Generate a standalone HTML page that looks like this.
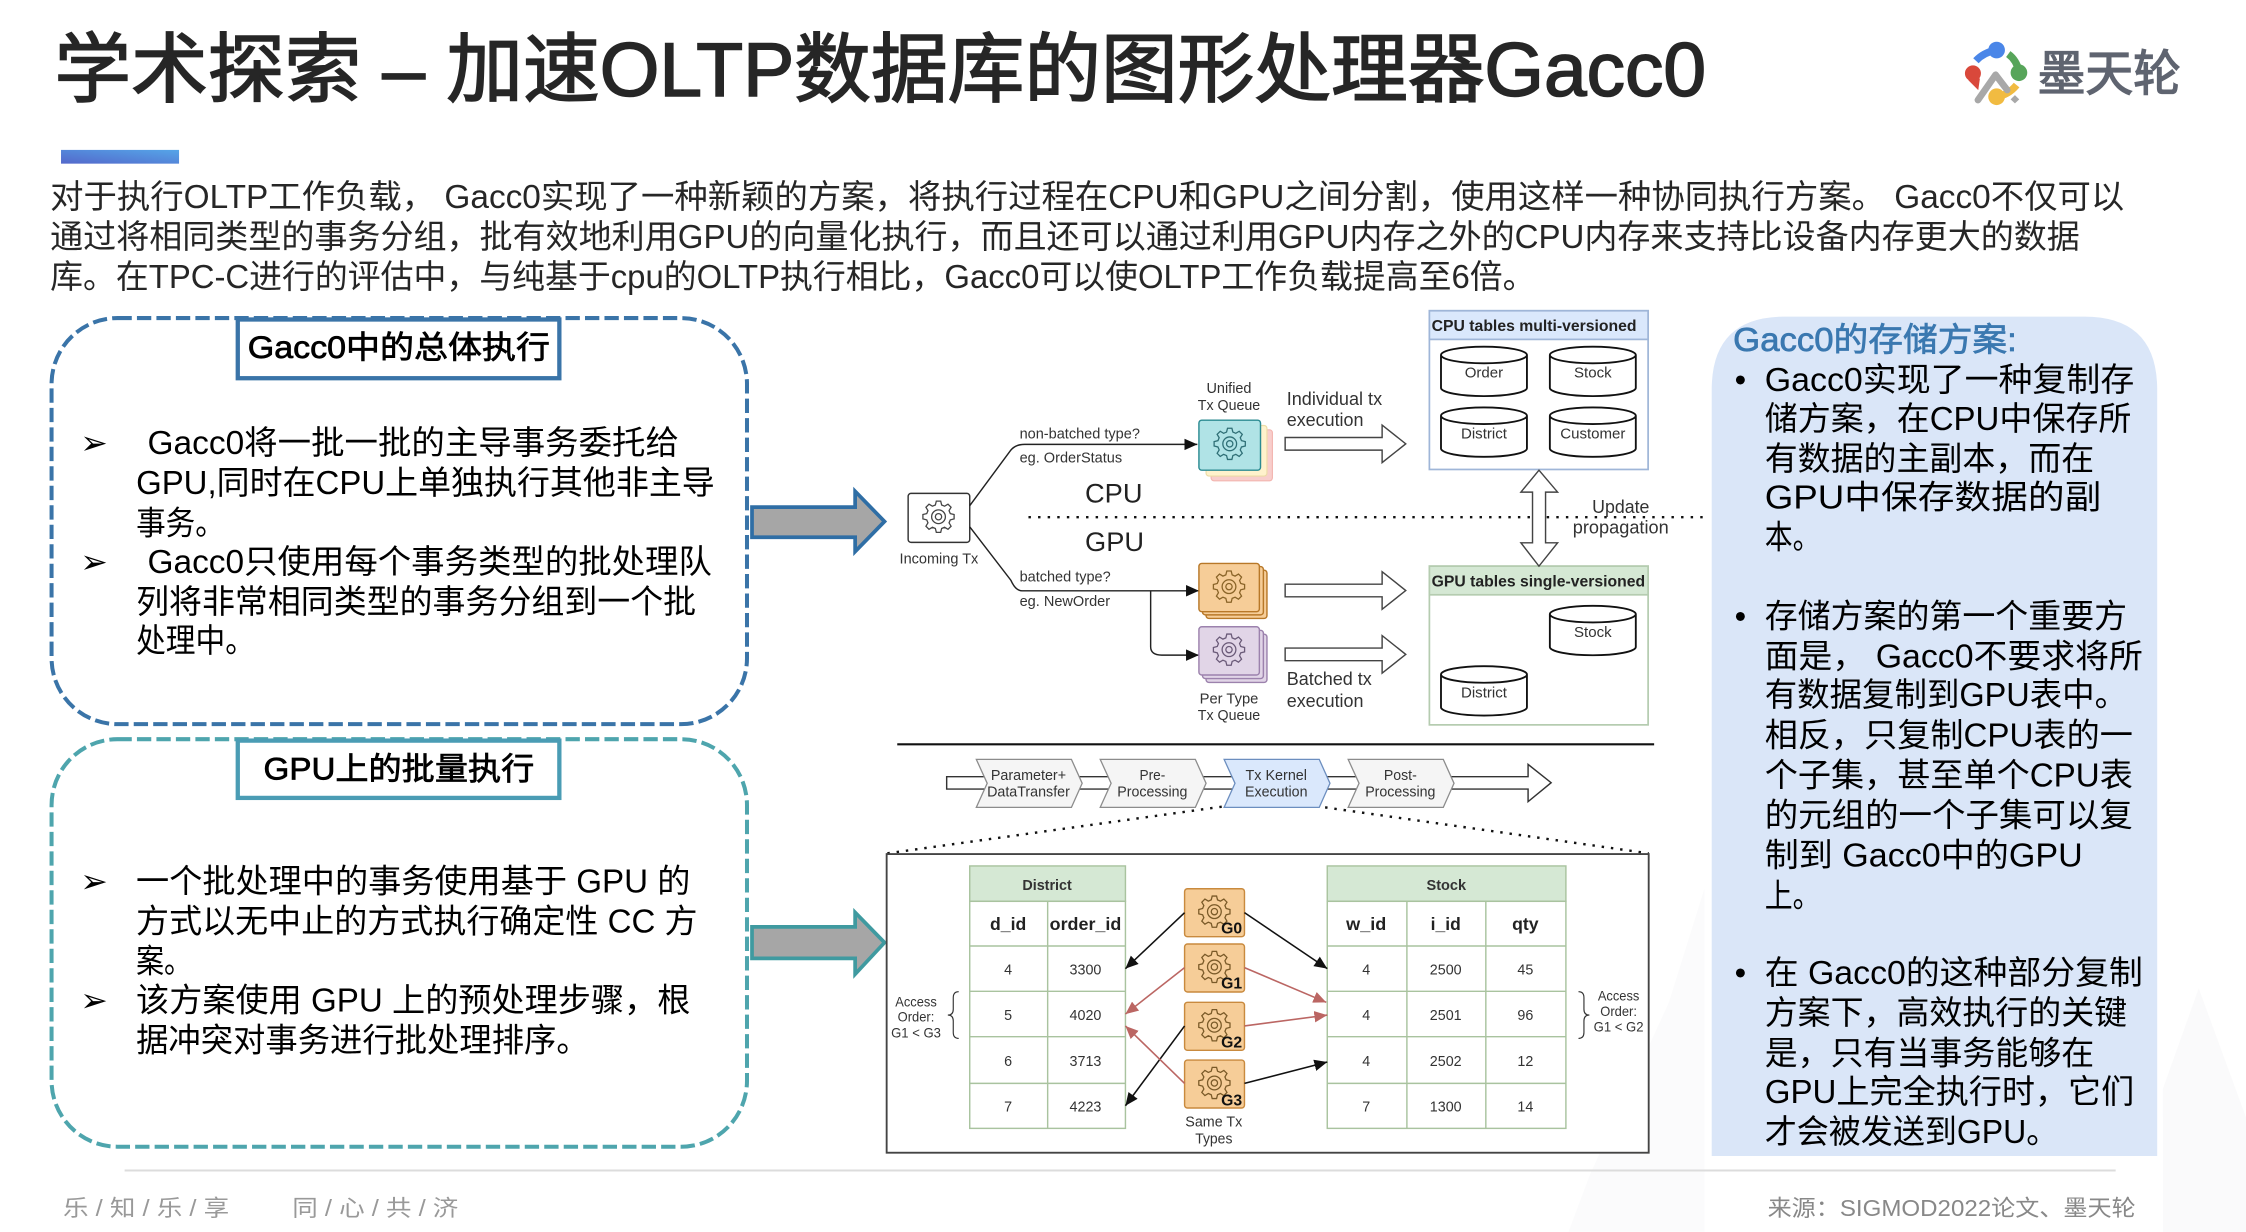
<!DOCTYPE html>
<html lang="zh">
<head>
<meta charset="utf-8">
<title>学术探索 - 加速OLTP数据库的图形处理器Gacc0</title>
<style>
html,body{margin:0;padding:0;background:#fff;width:2246px;height:1232px;overflow:hidden}
svg{display:block}
text{font-family:"Liberation Sans","Noto Sans CJK SC",sans-serif;white-space:pre}
.b{font-size:23px;fill:#000}
.d{font-size:10.5px;fill:#333}
.m{font-size:13px;fill:#333}
.c{text-anchor:middle}
.bd{font-weight:700}
</style>
</head>
<body>
<svg xmlns="http://www.w3.org/2000/svg" width="2246" height="1232" viewBox="0 0 1568 860">
<defs>
<linearGradient id="acc" x1="0" y1="1" x2="1" y2="0"><stop offset="0" stop-color="#5468cb"/><stop offset="1" stop-color="#55a5e8"/></linearGradient>
<marker id="ab" markerUnits="userSpaceOnUse" markerWidth="10" markerHeight="10" refX="9" refY="4" orient="auto"><path d="M0 0L9 4L0 8Z" fill="#111"/></marker>
<marker id="ar" markerUnits="userSpaceOnUse" markerWidth="10" markerHeight="10" refX="9" refY="4" orient="auto"><path d="M0 0L9 4L0 8Z" fill="#bb6663"/></marker>
<g id="gear" fill="none" stroke-width="0.9">
<path d="M8.21-2.2L10.89-1.53L10.89 1.53L8.21 2.2L7.36 4.25L8.78 6.62L6.62 8.78L4.25 7.36L2.2 8.21L1.53 10.89L-1.53 10.89L-2.2 8.21L-4.25 7.36L-6.62 8.78L-8.78 6.62L-7.36 4.25L-8.21 2.2L-10.89 1.53L-10.89-1.53L-8.21-2.2L-7.36-4.25L-8.78-6.62L-6.62-8.78L-4.25-7.36L-2.2-8.21L-1.53-10.89L1.53-10.89L2.2-8.21L4.25-7.36L6.62-8.78L8.78-6.62L7.36-4.25Z"/>
<circle r="4.8"/><circle r="2.2"/>
</g>
<path id="cyl" d="M0 5.8V28.7A30 5.8 0 0 0 60 28.7V5.8A30 5.8 0 0 0 0 5.8A30 5.8 0 0 0 60 5.8" fill="#fff" stroke="#111" stroke-width="1.3"/>
<path id="hollow" d="M0-4.4H67.7V-13.1L84.2 0L67.7 13.1V4.4H0Z" fill="#fff" stroke="#444" stroke-width="1"/>
<path id="chev" d="M0 0H66.4L73.9 16.7L66.4 33.5H0L7.6 16.7Z" stroke-width="0.9"/>
<g id="gcard"><rect x="0" y="0" width="41.8" height="33.5" rx="2" fill="#f6cd98" stroke="#c98a3e" stroke-width="1"/><use href="#gear" x="20.8" y="16" stroke="#7a5a28"/></g>
</defs>

<rect width="1568" height="860" fill="#fff"/>
<!-- watermark -->
<path d="M1095 860L1110 820L1165 700L1190 620V860Z" fill="#fbfbfc"/>
<path d="M1510 860V760L1535 690L1568 780V860Z" fill="#fafafb"/>

<!-- title -->
<text x="38" y="67" font-size="53" fill="#262626" stroke="#262626" stroke-width="1.1" textLength="1153" lengthAdjust="spacingAndGlyphs">学术探索 – 加速OLTP数据库的图形处理器Gacc0</text>
<rect x="42.6" y="104.6" width="82.4" height="9.6" fill="url(#acc)"/>

<!-- logo -->
<g transform="translate(1326.4,0) scale(0.2327)">
<path d="M228 182Q250 158 288 150" fill="none" stroke="#4a86e8" stroke-width="22"/><circle cx="290" cy="150" r="25" fill="#4a86e8"/>
<path d="M325 162Q350 180 358 216" fill="none" stroke="#57a55a" stroke-width="22"/><circle cx="357" cy="218" r="25" fill="#57a55a"/>
<path d="M205 240L235 270L240 235Z" fill="#d9483b"/><circle cx="219" cy="220" r="24" fill="#d9483b"/>
<path d="M350 255Q325 285 290 290" fill="none" stroke="#f1bb41" stroke-width="22"/><circle cx="290" cy="290" r="25" fill="#f1bb41"/>
<path d="M234 300L287 224L322 270" fill="none" stroke="#a8a8a8" stroke-width="20" stroke-linejoin="round" stroke-linecap="round"/>
<path d="M345 285L358 298L345 310L332 298Z" fill="#a8a8a8"/>
<text x="413" y="272" font-size="146" fill="#5f6470" stroke="#5f6470" stroke-width="4" textLength="430" lengthAdjust="spacingAndGlyphs">墨天轮</text>
</g>

<!-- intro -->
<text x="35" y="145" font-size="23" fill="#262626" textLength="1448" lengthAdjust="spacingAndGlyphs">对于执行OLTP工作负载， Gacc0实现了一种新颖的方案，将执行过程在CPU和GPU之间分割，使用这样一种协同执行方案。 Gacc0不仅可以</text>
<text x="35" y="173" font-size="23" fill="#262626" textLength="1417" lengthAdjust="spacingAndGlyphs">通过将相同类型的事务分组，批有效地利用GPU的向量化执行，而且还可以通过利用GPU内存之外的CPU内存来支持比设备内存更大的数据</text>
<text x="35" y="201" font-size="23" fill="#262626" textLength="1037" lengthAdjust="spacingAndGlyphs">库。在TPC-C进行的评估中，与纯基于cpu的OLTP执行相比，Gacc0可以使OLTP工作负载提高至6倍。</text>

<!-- left panel 1 -->
<rect x="36" y="222" width="485.5" height="283.5" rx="46" fill="#fff" stroke="#3a74a8" stroke-width="2.8" stroke-dasharray="10 3.6"/>
<rect x="166" y="223" width="224.5" height="41" fill="#fff" stroke="#3a74a8" stroke-width="3"/>
<text x="173" y="250" font-size="22" fill="#000" stroke="#000" stroke-width="0.5" textLength="211" lengthAdjust="spacingAndGlyphs">Gacc0中的总体执行</text>
<text x="56" y="317" font-size="23" style="font-family:'DejaVu Sans',sans-serif">➢</text>
<text x="103" y="317" class="b" textLength="371" lengthAdjust="spacingAndGlyphs">Gacc0将一批一批的主导事务委托给</text>
<text x="95" y="345" class="b" textLength="404" lengthAdjust="spacingAndGlyphs">GPU,同时在CPU上单独执行其他非主导</text>
<text x="95" y="373" class="b" textLength="62" lengthAdjust="spacingAndGlyphs">事务。</text>
<text x="56" y="400" font-size="23" style="font-family:'DejaVu Sans',sans-serif">➢</text>
<text x="103" y="400" class="b" textLength="394" lengthAdjust="spacingAndGlyphs">Gacc0只使用每个事务类型的批处理队</text>
<text x="95" y="428" class="b" textLength="391" lengthAdjust="spacingAndGlyphs">列将非常相同类型的事务分组到一个批</text>
<text x="95" y="455" class="b" textLength="83" lengthAdjust="spacingAndGlyphs">处理中。</text>

<!-- left panel 2 -->
<rect x="36" y="516" width="485.5" height="284.5" rx="46" fill="#fff" stroke="#4ea5ad" stroke-width="2.8" stroke-dasharray="10 3.6"/>
<rect x="166" y="517" width="224.5" height="40" fill="#fff" stroke="#4a9cb4" stroke-width="3"/>
<text x="184" y="544" font-size="22" fill="#000" stroke="#000" stroke-width="0.5" textLength="189" lengthAdjust="spacingAndGlyphs">GPU上的批量执行</text>
<text x="56" y="623" font-size="23" style="font-family:'DejaVu Sans',sans-serif">➢</text>
<text x="95" y="623" class="b" textLength="387" lengthAdjust="spacingAndGlyphs">一个批处理中的事务使用基于 GPU 的</text>
<text x="95" y="651" class="b" textLength="392" lengthAdjust="spacingAndGlyphs">方式以无中止的方式执行确定性 CC 方</text>
<text x="95" y="679" class="b" textLength="39" lengthAdjust="spacingAndGlyphs">案。</text>
<text x="56" y="706" font-size="23" style="font-family:'DejaVu Sans',sans-serif">➢</text>
<text x="95" y="706" class="b" textLength="387" lengthAdjust="spacingAndGlyphs">该方案使用 GPU 上的预处理步骤，根</text>
<text x="95" y="734" class="b" textLength="316" lengthAdjust="spacingAndGlyphs">据冲突对事务进行批处理排序。</text>

<!-- big arrows -->
<path d="M525 354H597V343L617.5 364L597 385V375H525Z" fill="#a6a6a6" stroke="#2f6ea5" stroke-width="2.6"/>
<path d="M525 647H597V637L617.5 658L597 680V669H525Z" fill="#a6a6a6" stroke="#3f9aa0" stroke-width="2.6"/>

<!-- top diagram -->
<rect x="997.9" y="216.9" width="152.7" height="110.8" fill="#fff" stroke="#9fb6d8" stroke-width="1.2"/>
<rect x="997.9" y="216.9" width="152.7" height="20" fill="#dae8fc" stroke="#9fb6d8" stroke-width="1.2"/>
<text x="999.5" y="231" font-size="11" class="bd" fill="#222" textLength="143" lengthAdjust="spacingAndGlyphs">CPU tables multi-versioned</text>
<use href="#cyl" x="1006" y="242"/><use href="#cyl" x="1082" y="242"/><use href="#cyl" x="1006" y="284.4"/><use href="#cyl" x="1082" y="284.4"/>
<text x="1036" y="263.5" class="d c">Order</text><text x="1112" y="263.5" class="d c">Stock</text>
<text x="1036" y="306" class="d c">District</text><text x="1112" y="306" class="d c">Customer</text>

<rect x="997.9" y="395.2" width="152.7" height="110.8" fill="#fff" stroke="#b5ccb0" stroke-width="1.2"/>
<rect x="997.9" y="395.2" width="152.7" height="20" fill="#d5e8d4" stroke="#b5ccb0" stroke-width="1.2"/>
<text x="999.5" y="409.5" font-size="11" class="bd" fill="#222" textLength="149" lengthAdjust="spacingAndGlyphs">GPU tables single-versioned</text>
<use href="#cyl" x="1082" y="422.9"/><use href="#cyl" x="1006" y="465"/>
<text x="1112" y="444.5" class="d c">Stock</text><text x="1036" y="487" class="d c">District</text>

<path d="M718 361H1189" stroke="#111" stroke-width="1.7" stroke-dasharray="1.7 5" fill="none"/>
<path d="M1074.4 328.2L1087.4 343.5H1079V378.9H1087.4L1074.4 395.2L1061.8 378.9H1069.9V343.5H1061.8Z" fill="#fff" stroke="#444" stroke-width="1"/>
<text x="1131.5" y="358" font-size="13" fill="#333" class="c" textLength="40" lengthAdjust="spacingAndGlyphs">Update</text>
<text x="1131.5" y="372.4" font-size="13" fill="#333" class="c" textLength="67" lengthAdjust="spacingAndGlyphs">propagation</text>

<text x="757.5" y="350.7" font-size="19" fill="#222">CPU</text>
<text x="757.5" y="384.7" font-size="19" fill="#222">GPU</text>

<rect x="634" y="344.4" width="43" height="34.2" rx="2" fill="#fff" stroke="#333" stroke-width="1"/>
<use href="#gear" x="655.2" y="360.7" stroke="#444"/>
<text x="655.5" y="393.5" class="d c" textLength="55" lengthAdjust="spacingAndGlyphs">Incoming Tx</text>

<path d="M677 353L705.7 314.2Q709 310.2 715.3 310.2H835.9" fill="none" stroke="#222" stroke-width="1" marker-end="url(#ab)"/>
<path d="M677 367.7L705.7 405Q709 412.4 713.4 412.4H837" fill="none" stroke="#222" stroke-width="1" marker-end="url(#ab)"/>
<path d="M803.3 412.4V451.5Q803.3 457.3 811 457.3H837" fill="none" stroke="#222" stroke-width="1" marker-end="url(#ab)"/>
<text x="711.8" y="306" class="d" textLength="84" lengthAdjust="spacingAndGlyphs">non-batched type?</text>
<text x="711.8" y="323" class="d" textLength="71.6" lengthAdjust="spacingAndGlyphs">eg. OrderStatus</text>
<text x="711.8" y="406" class="d" textLength="63.6" lengthAdjust="spacingAndGlyphs">batched type?</text>
<text x="711.8" y="423" class="d" textLength="63.2" lengthAdjust="spacingAndGlyphs">eg. NewOrder</text>

<text x="858" y="274.2" class="d c" textLength="31.4" lengthAdjust="spacingAndGlyphs">Unified</text>
<text x="858" y="286.3" class="d c" textLength="43.6" lengthAdjust="spacingAndGlyphs">Tx Queue</text>
<rect x="845.5" y="300" width="42.8" height="35.6" rx="2" fill="#f8cecc" stroke="#f3b5b0" stroke-width="0.8"/>
<rect x="842" y="297" width="42.5" height="35.3" rx="2" fill="#fff2cc" stroke="#ecdca6" stroke-width="0.8"/>
<rect x="837" y="293.3" width="43" height="34.9" rx="2" fill="#b0e3e6" stroke="#2b8b92" stroke-width="1"/>
<use href="#gear" x="858.5" y="309.8" stroke="#2f6f76"/>

<rect x="842" y="398" width="42.5" height="33.7" rx="2" fill="#f6cd98" stroke="#b87828" stroke-width="1"/>
<rect x="839.5" y="395.5" width="42.5" height="33.7" rx="2" fill="#f6cd98" stroke="#b87828" stroke-width="1"/>
<rect x="837" y="393.3" width="42.2" height="33.7" rx="2" fill="#f6cd98" stroke="#b87828" stroke-width="1"/>
<use href="#gear" x="858" y="409.5" stroke="#8a6428"/>
<rect x="842" y="442.7" width="42.5" height="33.7" rx="2" fill="#e1d5e7" stroke="#9c82ad" stroke-width="1"/>
<rect x="839.5" y="440" width="42.5" height="33.7" rx="2" fill="#e1d5e7" stroke="#9c82ad" stroke-width="1"/>
<rect x="837" y="437.5" width="42.2" height="33.7" rx="2" fill="#e1d5e7" stroke="#9c82ad" stroke-width="1"/>
<use href="#gear" x="858" y="453.5" stroke="#6a5a78"/>
<text x="858" y="491" class="d c" textLength="41" lengthAdjust="spacingAndGlyphs">Per Type</text>
<text x="858" y="502.7" class="d c" textLength="43.6" lengthAdjust="spacingAndGlyphs">Tx Queue</text>

<use href="#hollow" x="897.2" y="309.8"/><use href="#hollow" x="897.2" y="412.2"/><use href="#hollow" x="897.2" y="456.8"/>
<text x="898.3" y="282.8" class="m" textLength="66.6" lengthAdjust="spacingAndGlyphs">Individual tx</text>
<text x="898.3" y="297.4" class="m" textLength="53.6" lengthAdjust="spacingAndGlyphs">execution</text>
<text x="898.3" y="478.3" class="m" textLength="59.4" lengthAdjust="spacingAndGlyphs">Batched tx</text>
<text x="898.3" y="493.4" class="m" textLength="53.6" lengthAdjust="spacingAndGlyphs">execution</text>

<path d="M626.4 519.6H1154.8" stroke="#111" stroke-width="1.5"/>

<!-- process -->
<path d="M660.9 542.2H1066.8V533.6L1082.9 546.4L1066.8 559.6V550.8H660.9Z" fill="#fff" stroke="#333" stroke-width="1"/>
<use href="#chev" x="681.6" y="530.1" fill="#f5f5f5" stroke="#8c8c8c"/>
<use href="#chev" x="768.1" y="530.1" fill="#f5f5f5" stroke="#8c8c8c"/>
<use href="#chev" x="854.6" y="530.1" fill="#dae8fc" stroke="#6c8ebf"/>
<use href="#chev" x="941.2" y="530.1" fill="#f5f5f5" stroke="#8c8c8c"/>
<text x="718" y="544.5" class="d c" textLength="52.5" lengthAdjust="spacingAndGlyphs">Parameter+</text>
<text x="718" y="556.1" class="d c" textLength="57.8" lengthAdjust="spacingAndGlyphs">DataTransfer</text>
<text x="804.5" y="544.5" class="d c" textLength="18" lengthAdjust="spacingAndGlyphs">Pre-</text>
<text x="804.5" y="556.1" class="d c" textLength="49" lengthAdjust="spacingAndGlyphs">Processing</text>
<text x="891" y="544.5" class="d c" textLength="42.9" lengthAdjust="spacingAndGlyphs">Tx Kernel</text>
<text x="891" y="556.1" class="d c" textLength="43.6" lengthAdjust="spacingAndGlyphs">Execution</text>
<text x="977.6" y="544.5" class="d c" textLength="23" lengthAdjust="spacingAndGlyphs">Post-</text>
<text x="977.6" y="556.1" class="d c" textLength="49" lengthAdjust="spacingAndGlyphs">Processing</text>

<path d="M619.5 595.7L853.1 563.1M925.1 563.6L1151 595.7" stroke="#111" stroke-width="1.7" stroke-dasharray="1.7 4.8" fill="none"/>

<rect x="619" y="596.2" width="532" height="208.5" fill="#fff" stroke="#444" stroke-width="1.3"/>

<!-- tables -->
<g fill="none" stroke="#a9c39f" stroke-width="1">
<rect x="677" y="604.5" width="108.7" height="24.7" fill="#d5e8d4"/>
<rect x="677" y="629.2" width="108.7" height="158.5" fill="#fff"/>
<path d="M677 660.4H785.7M677 692H785.7M677 723.7H785.7M677 756.3H785.7M731.4 629.2V787.7"/>
<rect x="926.6" y="604.5" width="166.6" height="24.7" fill="#d5e8d4"/>
<rect x="926.6" y="629.2" width="166.6" height="158.5" fill="#fff"/>
<path d="M926.6 660.4H1093.2M926.6 692H1093.2M926.6 723.7H1093.2M926.6 756.3H1093.2M982.2 629.2V787.7M1037.3 629.2V787.7"/>
</g>
<text x="731" y="621.3" font-size="10.5" class="c bd" fill="#333" textLength="34.5" lengthAdjust="spacingAndGlyphs">District</text>
<text x="1009.7" y="621.3" font-size="10.5" class="c bd" fill="#333" textLength="27.6" lengthAdjust="spacingAndGlyphs">Stock</text>
<g font-size="12.5" class="bd" fill="#222" text-anchor="middle">
<text x="703.8" y="649.2" class="c bd" textLength="25.3" lengthAdjust="spacingAndGlyphs">d_id</text>
<text x="757.8" y="649.2" class="c bd" textLength="50" lengthAdjust="spacingAndGlyphs">order_id</text>
<text x="953.8" y="649.2" class="c bd" textLength="28" lengthAdjust="spacingAndGlyphs">w_id</text>
<text x="1009.3" y="649.2" class="c bd" textLength="21" lengthAdjust="spacingAndGlyphs">i_id</text>
<text x="1064.9" y="649.2" class="c bd" textLength="18.5" lengthAdjust="spacingAndGlyphs">qty</text>
</g>
<g font-size="10" fill="#333" text-anchor="middle">
<text x="703.8" y="680.2">4</text><text x="757.8" y="680.2">3300</text>
<text x="703.8" y="712">5</text><text x="757.8" y="712">4020</text>
<text x="703.8" y="744.2">6</text><text x="757.8" y="744.2">3713</text>
<text x="703.8" y="776">7</text><text x="757.8" y="776">4223</text>
<text x="953.8" y="680.2">4</text><text x="1009.3" y="680.2">2500</text><text x="1064.9" y="680.2">45</text>
<text x="953.8" y="712">4</text><text x="1009.3" y="712">2501</text><text x="1064.9" y="712">96</text>
<text x="953.8" y="744.2">4</text><text x="1009.3" y="744.2">2502</text><text x="1064.9" y="744.2">12</text>
<text x="953.8" y="776">7</text><text x="1009.3" y="776">1300</text><text x="1064.9" y="776">14</text>
</g>

<!-- gears -->
<use href="#gcard" x="827" y="620.4"/><use href="#gcard" x="827" y="659"/><use href="#gcard" x="827" y="699.7"/><use href="#gcard" x="827" y="740"/>
<g font-size="11" font-weight="700" fill="#111">
<text x="852.5" y="651.6">G0</text><text x="852.5" y="689.9">G1</text><text x="852.5" y="731.4">G2</text><text x="852.5" y="771.6">G3</text>
</g>
<text x="847.4" y="786.5" class="d c" textLength="39.8" lengthAdjust="spacingAndGlyphs">Same Tx</text>
<text x="847.4" y="798.2" class="d c" textLength="26" lengthAdjust="spacingAndGlyphs">Types</text>

<g fill="none" stroke-width="1.1">
<path d="M827 637.1L785.7 676.2" stroke="#111" marker-end="url(#ab)"/>
<path d="M868.8 637.1L926.6 676.2" stroke="#111" marker-end="url(#ab)"/>
<path d="M827 675.5L785.7 707.9" stroke="#bb6663" marker-end="url(#ar)"/>
<path d="M868.8 675.5L925.9 699.7" stroke="#bb6663" marker-end="url(#ar)"/>
<path d="M868.8 716.2L926.6 708.6" stroke="#bb6663" marker-end="url(#ar)"/>
<path d="M827 716.2L785.7 771.9" stroke="#111" marker-end="url(#ab)"/>
<path d="M827 756.3L785.7 716.2" stroke="#bb6663" marker-end="url(#ar)"/>
<path d="M868.8 756.3L926.6 741.4" stroke="#111" marker-end="url(#ab)"/>
</g>

<!-- access order -->
<g font-size="9.5" fill="#333" text-anchor="middle">
<text x="639.5" y="702.7" textLength="29" lengthAdjust="spacingAndGlyphs">Access</text>
<text x="639.5" y="713.2" textLength="25.6" lengthAdjust="spacingAndGlyphs">Order:</text>
<text x="639.5" y="724.1" textLength="34.8" lengthAdjust="spacingAndGlyphs">G1 &lt; G3</text>
<text x="1130" y="698.6" textLength="29" lengthAdjust="spacingAndGlyphs">Access</text>
<text x="1130" y="709.3" textLength="25.6" lengthAdjust="spacingAndGlyphs">Order:</text>
<text x="1130" y="720.2" textLength="34.8" lengthAdjust="spacingAndGlyphs">G1 &lt; G2</text>
</g>
<path d="M669.3 692.3Q665.5 692.3 665.5 696.5V704.5Q665.5 708.6 661.7 708.6Q665.5 708.6 665.5 712.7V720.7Q665.5 724.9 669.3 724.9" fill="none" stroke="#333" stroke-width="0.8"/>
<path d="M1102 692.3Q1105.8 692.3 1105.8 696.5V704.5Q1105.8 708.6 1109.6 708.6Q1105.8 708.6 1105.8 712.7V720.7Q1105.8 724.9 1102 724.9" fill="none" stroke="#333" stroke-width="0.8"/>

<!-- right panel -->
<path d="M1195 807V272Q1195 221 1246 221H1455Q1506 221 1506 272V807Z" fill="#dae6f8"/>
<text x="1210" y="245" font-size="23" fill="#3a78b0" stroke="#3a78b0" stroke-width="0.5" textLength="198" lengthAdjust="spacingAndGlyphs">Gacc0的存储方案:</text>
<g>
<text x="1211" y="273" class="b">•</text>
<text x="1232" y="273" class="b" textLength="258" lengthAdjust="spacingAndGlyphs">Gacc0实现了一种复制存</text>
<text x="1232" y="300" class="b" textLength="256" lengthAdjust="spacingAndGlyphs">储方案，在CPU中保存所</text>
<text x="1232" y="328" class="b" textLength="230" lengthAdjust="spacingAndGlyphs">有数据的主副本，而在</text>
<text x="1232" y="355" class="b" textLength="235" lengthAdjust="spacingAndGlyphs">GPU中保存数据的副</text>
<text x="1232" y="383" class="b" textLength="39" lengthAdjust="spacingAndGlyphs">本。</text>
<text x="1211" y="438" class="b">•</text>
<text x="1232" y="438" class="b" textLength="253" lengthAdjust="spacingAndGlyphs">存储方案的第一个重要方</text>
<text x="1232" y="466" class="b" textLength="264" lengthAdjust="spacingAndGlyphs">面是， Gacc0不要求将所</text>
<text x="1232" y="493" class="b" textLength="253" lengthAdjust="spacingAndGlyphs">有数据复制到GPU表中。</text>
<text x="1232" y="521" class="b" textLength="257" lengthAdjust="spacingAndGlyphs">相反，只复制CPU表的一</text>
<text x="1232" y="549" class="b" textLength="257" lengthAdjust="spacingAndGlyphs">个子集，甚至单个CPU表</text>
<text x="1232" y="577" class="b" textLength="257" lengthAdjust="spacingAndGlyphs">的元组的一个子集可以复</text>
<text x="1232" y="605" class="b" textLength="222" lengthAdjust="spacingAndGlyphs">制到 Gacc0中的GPU</text>
<text x="1232" y="633" class="b" textLength="39" lengthAdjust="spacingAndGlyphs">上。</text>
<text x="1211" y="687" class="b">•</text>
<text x="1232" y="687" class="b" textLength="264" lengthAdjust="spacingAndGlyphs">在 Gacc0的这种部分复制</text>
<text x="1232" y="715" class="b" textLength="253" lengthAdjust="spacingAndGlyphs">方案下，高效执行的关键</text>
<text x="1232" y="743" class="b" textLength="230" lengthAdjust="spacingAndGlyphs">是，只有当事务能够在</text>
<text x="1232" y="770" class="b" textLength="258" lengthAdjust="spacingAndGlyphs">GPU上完全执行时，它们</text>
<text x="1232" y="798" class="b" textLength="205" lengthAdjust="spacingAndGlyphs">才会被发送到GPU。</text>
</g>

<!-- footer -->
<rect x="87" y="816.4" width="1390" height="1.4" fill="#dcdcdc"/>
<text x="44" y="849" font-size="16" fill="#999" textLength="116" lengthAdjust="spacingAndGlyphs">乐 / 知 / 乐 / 享</text>
<text x="204" y="849" font-size="16" fill="#999" textLength="116" lengthAdjust="spacingAndGlyphs">同 / 心 / 共 / 济</text>
<text x="1234" y="849" font-size="16" fill="#888" textLength="257" lengthAdjust="spacingAndGlyphs">来源：SIGMOD2022论文、墨天轮</text>
</svg>
</body>
</html>
